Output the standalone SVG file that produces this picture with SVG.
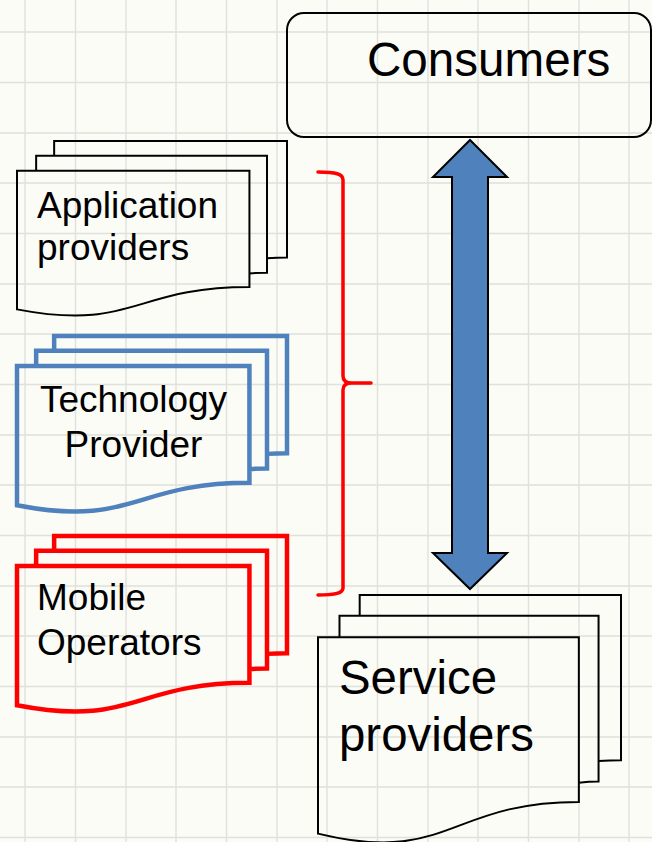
<svg xmlns="http://www.w3.org/2000/svg" width="652" height="842" viewBox="0 0 652 842">
  <defs>
    <style>
      .grid { stroke: #e0e0dc; stroke-width: 1.4; fill: none; }
      .doc { fill: none; stroke-linejoin: miter; vector-effect: non-scaling-stroke; }
      .label { font-family: "Liberation Sans", Arial, sans-serif; fill: #000; }
      .bk { stroke: #000; stroke-width: 2; }
      .bl { stroke: #4f81bd; stroke-width: 4.5; }
      .rd { stroke: #ff0000; stroke-width: 4.5; }
    </style>
  </defs>

  <!-- paper background with grid -->
  <rect x="0" y="0" width="652" height="842" fill="#fcfcf7"/>
  <path class="grid" d="M25,0V842 M75.5,0V842 M126,0V842 M176,0V842 M226.5,0V842 M277,0V842 M327,0V842 M377.5,0V842 M428,0V842 M478,0V842 M528.5,0V842 M579,0V842 M629,0V842 M0,32H652 M0,82.5H652 M0,133H652 M0,183H652 M0,233.5H652 M0,284H652 M0,334H652 M0,384.5H652 M0,435H652 M0,485H652 M0,535.5H652 M0,586H652 M0,636H652 M0,686.5H652 M0,737H652 M0,787H652 M0,837.5H652"/>

  <g id="consumers">
    <rect x="287" y="13" width="364" height="124" rx="17" ry="17" fill="none" stroke="#000" stroke-width="2"/>
    <text class="label" x="367" y="76" font-size="47.6">Consumers</text>
  </g>

  <!-- stacked-document outlines, drawn in 21600 units and scaled to each box -->
  <g id="application-providers">
    <path class="doc bk" d="M0,20782 C9298,23542 9298,18022 18595,18022 L18595,3675 L0,3675 Z M1532,3675 L1532,1815 L20000,1815 L20000,16252 C19298,16252 18595,16352 18595,16352 M2972,1815 L2972,0 L21600,0 L21600,14392 C20800,14392 20000,14467 20000,14467" transform="translate(17,141) scale(0.0125,0.0081019)"/>
    <text class="label" x="37" y="218" font-size="37">Application</text>
    <text class="label" x="37" y="260" font-size="37">providers</text>
  </g>

  <g id="technology-provider">
    <path class="doc bl" d="M0,20782 C9298,23542 9298,18022 18595,18022 L18595,3675 L0,3675 Z M1532,3675 L1532,1815 L20000,1815 L20000,16252 C19298,16252 18595,16352 18595,16352 M2972,1815 L2972,0 L21600,0 L21600,14392 C20800,14392 20000,14467 20000,14467" transform="translate(17,336) scale(0.0125,0.0081481)"/>
    <text class="label" x="133.5" y="412" font-size="37" text-anchor="middle">Technology</text>
    <text class="label" x="133.5" y="457" font-size="37" text-anchor="middle">Provider</text>
  </g>

  <g id="mobile-operators">
    <path class="doc rd" d="M0,20782 C9298,23542 9298,18022 18595,18022 L18595,3675 L0,3675 Z M1532,3675 L1532,1815 L20000,1815 L20000,16252 C19298,16252 18595,16352 18595,16352 M2972,1815 L2972,0 L21600,0 L21600,14392 C20800,14392 20000,14467 20000,14467" transform="translate(17,536) scale(0.0125,0.0081481)"/>
    <text class="label" x="37" y="610" font-size="37">Mobile</text>
    <text class="label" x="37" y="655" font-size="37">Operators</text>
  </g>

  <g id="service-providers">
    <path class="doc bk" d="M0,20782 C9298,23542 9298,18022 18595,18022 L18595,3675 L0,3675 Z M1532,3675 L1532,1815 L20000,1815 L20000,16252 C19298,16252 18595,16352 18595,16352 M2972,1815 L2972,0 L21600,0 L21600,14392 C20800,14392 20000,14467 20000,14467" transform="translate(318,595) scale(0.0140278,0.0114815)"/>
    <text class="label" x="339" y="694" font-size="47.4">Service</text>
    <text class="label" x="339" y="751" font-size="47.4">providers</text>
  </g>

  <g id="connectors">
    <!-- brace grouping the three provider kinds -->
    <path d="M318,172 C336,172 343,174 343,180 L343,376 C343,381 346,383 352,383 L371,383 M352,383 C346,383 343,385 343,390 L343,588 C343,593 336,595 318,595" fill="none" stroke="#ff0000" stroke-width="3.5" stroke-linecap="round"/>
    <!-- two-way block arrow between consumers and service providers -->
    <path d="M470,140 L507,177 L488,177 L488,553 L507,553 L470,589 L433,553 L452,553 L452,177 L433,177 Z" fill="#4f81bd" stroke="#000" stroke-width="2" stroke-linejoin="miter"/>
  </g>
</svg>
